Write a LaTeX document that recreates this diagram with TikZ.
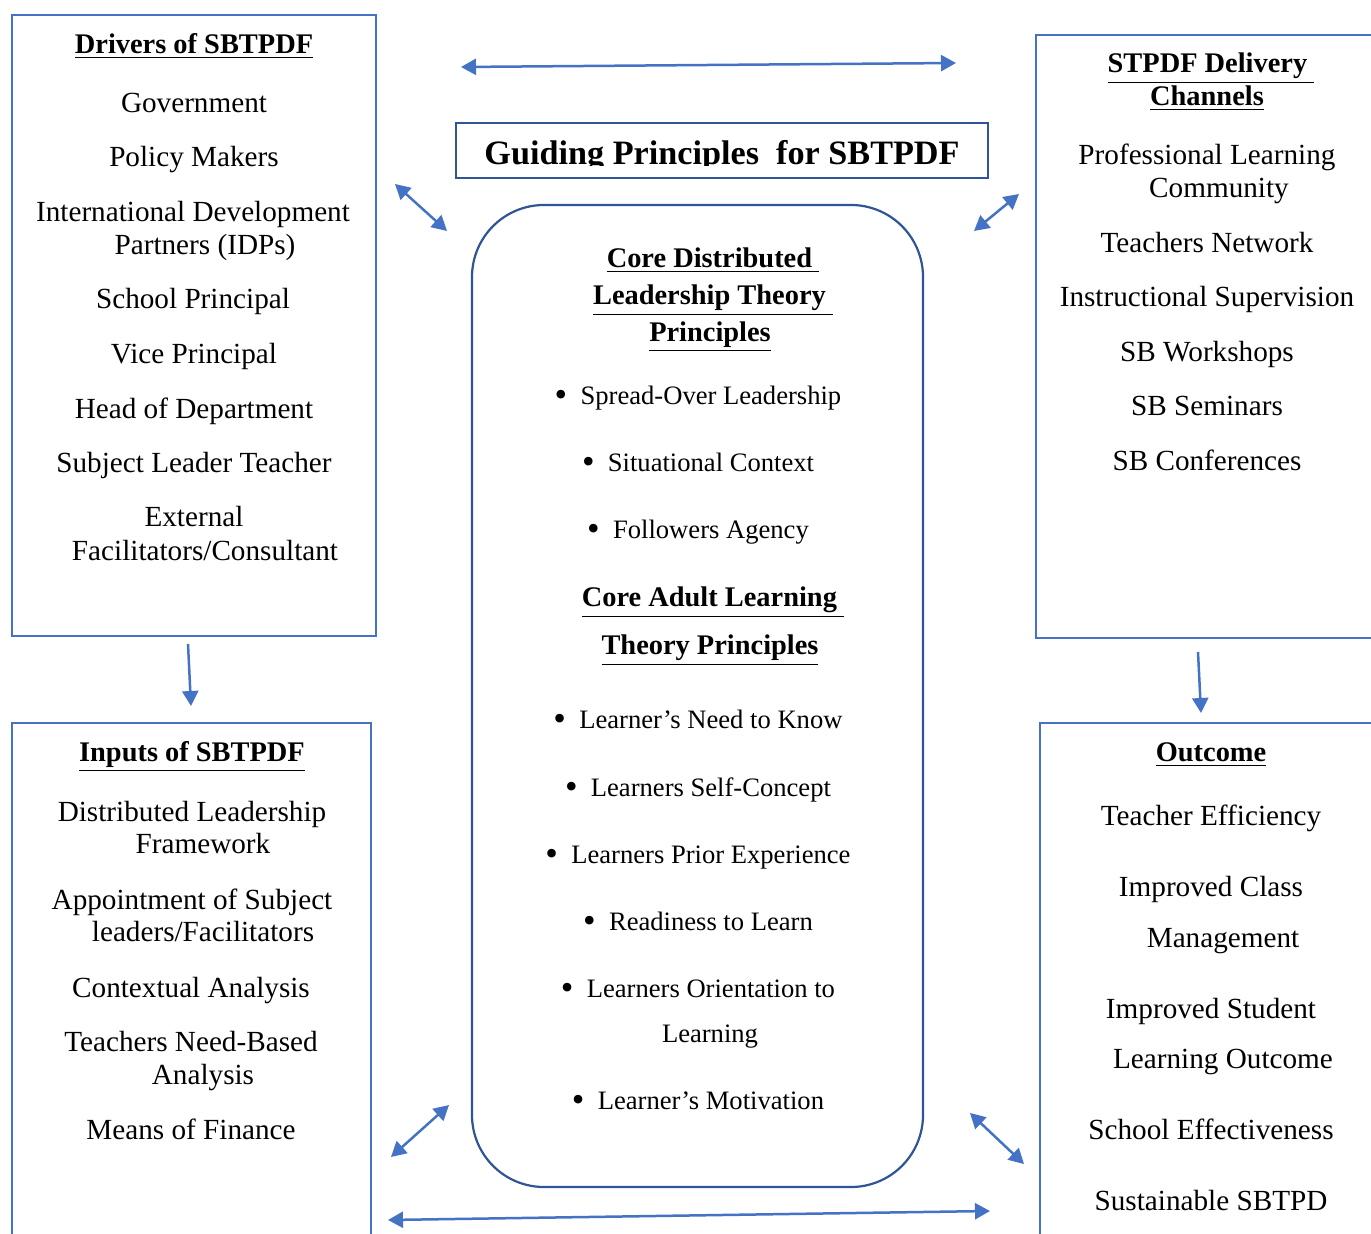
\documentclass[tikz,border=0pt]{standalone}
\usepackage{fontspec}
\setmainfont{Liberation Serif}
\usetikzlibrary{arrows.meta}

\definecolor{boxblue}{HTML}{4472C4}
\definecolor{darkblue}{HTML}{2F5597}

\tikzset{
  txt/.style={anchor=base,inner sep=0pt,yshift=-1pt,font=\fontsize{14.6}{16}\selectfont},
  hd/.style={txt,font=\fontsize{14.2}{16}\selectfont\bfseries},
  bul/.style={txt,yshift=0.6pt,font=\fontsize{13.3}{15}\selectfont},
  frame/.style={draw=boxblue,line width=1pt},
  core/.style={draw=darkblue,line width=1.1pt,rounded corners=36pt},
  link/.style={boxblue,line width=1.25pt,{Triangle[length=7.5pt,width=8pt]}-{Triangle[length=7.5pt,width=8pt]}},
  down/.style={boxblue,line width=1.25pt,-{Triangle[length=7.5pt,width=8pt]}}
}
\newcommand{\bl}{\raisebox{-0.1ex}{\scalebox{1.35}{\textbullet}}\hspace{0.5em}}

\begin{document}
\begin{tikzpicture}[x=0.5pt,y=-0.5pt]
\clip (0,0) rectangle (1371,1234);

% frames
\draw[frame] (12,15) rectangle (376,636);
\draw[frame] (12,1260) -- (12,723) -- (371,723) -- (371,1260);
\draw[frame] (1400,35) -- (1036,35) -- (1036,638) -- (1400,638);
\draw[frame] (1040,1260) -- (1040,723) -- (1400,723);
\draw[frame,draw=darkblue] (456,123) rectangle (988,178);
\draw[core] (472,205) rectangle (923,1187);

% title
\begin{scope}
\clip (458,125) rectangle (986,166);
\node[hd,yshift=1pt,font=\fontsize{17.1}{19}\selectfont\bfseries] (title) at (722,165) {Guiding Principles\ \ for SBTPDF};
\end{scope}

% drivers
\node[hd]  (drvH) at (194,52)  {\underline{Drivers of SBTPDF}};
\node[txt] (drv1) at (194,111) {Government};
\node[txt] (drv2) at (194,165) {Policy Makers};
\node[txt] (drv3) at (193,220) {International Development};
\node[txt] (drv4) at (205,253) {Partners (IDPs)};
\node[txt] (drv5) at (193,307) {School Principal};
\node[txt] (drv6) at (194,362) {Vice Principal};
\node[txt] (drv7) at (194,417) {Head of Department};
\node[txt] (drv8) at (194,471) {Subject Leader Teacher};
\node[txt] (drv9) at (194,525) {External};
\node[txt] (drv10) at (205,559) {Facilitators/Consultant};

% inputs
\node[hd]  (inpH) at (192,760)  {\underline{Inputs of SBTPDF}};
\node[txt] (inp1) at (192,819)  {Distributed Leadership};
\node[txt] (inp2) at (203,852)  {Framework};
\node[txt] (inp3) at (192,907)  {Appointment of Subject};
\node[txt] (inp4) at (203,940)  {leaders/Facilitators};
\node[txt] (inp5) at (191,995)  {Contextual Analysis};
\node[txt] (inp6) at (191,1049) {Teachers Need-Based};
\node[txt] (inp7) at (203,1082) {Analysis};
\node[txt] (inp8) at (191,1137) {Means of Finance};

% core principles
\node[hd]  (dlH1) at (713,266) {\underline{Core Distributed\ }};
\node[hd]  (dlH2) at (713,303) {\underline{Leadership Theory\ }};
\node[hd]  (dlH3) at (710,340) {\underline{Principles}};
\node[bul] (dl1) at (698,404) {\bl Spread-Over Leadership};
\node[bul] (dl2) at (698,471) {\bl Situational Context};
\node[bul] (dl3) at (698,538) {\bl Followers Agency};
\node[hd]  (alH1) at (713,605) {\underline{Core Adult Learning\ }};
\node[hd]  (alH2) at (710,653) {\underline{Theory Principles}};
\node[bul] (al1) at (698,728)  {\bl Learner’s Need to Know};
\node[bul] (al2) at (698,796)  {\bl Learners Self-Concept};
\node[bul] (al3) at (698,863)  {\bl Learners Prior Experience};
\node[bul] (al4) at (698,930)  {\bl Readiness to Learn};
\node[bul] (al5) at (698,997)  {\bl Learners Orientation to};
\node[bul] (al5b) at (710,1042) {Learning};
\node[bul] (al6) at (698,1109) {\bl Learner’s Motivation};

% delivery channels
\node[hd]  (chH1) at (1211,71)  {\underline{STPDF Delivery\ }};
\node[hd]  (chH2) at (1207,104) {\underline{Channels}};
\node[txt] (ch1) at (1207,163) {Professional Learning};
\node[txt] (ch2) at (1219,196) {Community};
\node[txt] (ch3) at (1207,251) {Teachers Network};
\node[txt] (ch4) at (1207,305) {Instructional Supervision};
\node[txt] (ch5) at (1207,360) {SB Workshops};
\node[txt] (ch6) at (1207,414) {SB Seminars};
\node[txt] (ch7) at (1207,469) {SB Conferences};

% outcome
\node[hd]  (outH) at (1211,760) {\underline{Outcome}};
\node[txt] (out1) at (1211,824)  {Teacher Efficiency};
\node[txt] (out2) at (1211,895)  {Improved Class};
\node[txt] (out3) at (1223,945)  {Management};
\node[txt] (out4) at (1211,1016) {Improved Student};
\node[txt] (out5) at (1223,1066) {Learning Outcome};
\node[txt] (out6) at (1211,1137) {School Effectiveness};
\node[txt] (out7) at (1211,1208) {Sustainable SBTPD};

% arrow ends
\coordinate (topL) at (461,67);   \coordinate (topR) at (956,63);
\coordinate (nwA) at (395,184);   \coordinate (nwB) at (447,231);
\coordinate (neA) at (1019,194);  \coordinate (neB) at (974,231);
\coordinate (swA) at (449,1105);  \coordinate (swB) at (391,1157);
\coordinate (seA) at (970,1113);  \coordinate (seB) at (1024,1164);
\coordinate (botL) at (388,1220); \coordinate (botR) at (990,1211);
\coordinate (drvD) at (188,644);  \coordinate (inpU) at (191,706);
\coordinate (chD) at (1198,652);  \coordinate (outU) at (1201,713);

\draw[link] (topL) -- (topR);
\draw[link] (nwA) -- (nwB);
\draw[link] (neA) -- (neB);
\draw[link] (swA) -- (swB);
\draw[link] (seA) -- (seB);
\draw[link] (botL) -- (botR);
\draw[down] (drvD) -- (inpU);
\draw[down] (chD) -- (outU);
\end{tikzpicture}
\end{document}
